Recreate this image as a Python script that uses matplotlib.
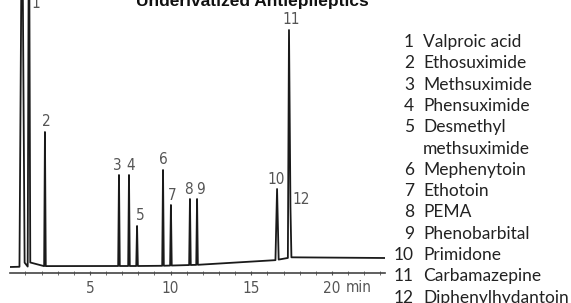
import numpy as np
import matplotlib.pyplot as plt

# 色谱数据：保留时间(min)与峰高(任意单位，基线为0)
peak_times = [0.79, 1.22, 2.21, 6.80, 7.42, 7.92, 9.53, 10.02, 11.20, 11.64, 16.60, 17.34]
peak_heights = [400, 400, 141, 98, 98, 47, 103, 68, 74, 74, 84, 243]
peak_labels = ['', '1', '2', '3', '4', '5', '6', '7', '8', '9', '10', '11']
# 12号峰是11号峰右侧的肩峰
shoulder_time = 17.43
shoulder_height = 66

# 基线漂移
base_times = [0.04, 2.5, 9.0, 13.5, 16.2, 17.6, 20.0, 23.3]
base_levels = [6, 7, 7, 9, 12, 16, 15, 15]

compounds = ['Valproic acid', 'Ethosuximide', 'Methsuximide', 'Phensuximide',
             'Desmethyl\nmethsuximide', 'Mephenytoin', 'Ethotoin', 'PEMA',
             'Phenobarbital', 'Primidone', 'Carbamazepine', 'Diphenylhydantoin']

tick_vals = [5, 10, 15, 20]


def baseline(t):
    return np.interp(t, base_times, base_levels)


# 拼出色谱曲线：每个峰 = 左基线点、峰顶、右基线点
pts = [(base_times[0], base_levels[0])]
widths = [0.16, 0.08, 0.05, 0.05, 0.05, 0.05, 0.05, 0.05, 0.05, 0.05, 0.1, 0.07]
for t, h, w in zip(peak_times, peak_heights, widths):
    pts.append((t - w, baseline(t - w)))
    pts.append((t, h))
    if t == peak_times[-1]:
        pts.append((shoulder_time, shoulder_height))
        pts.append((shoulder_time + 0.06, baseline(shoulder_time + 0.06)))
    else:
        pts.append((t + w, baseline(t + w) + (4 if t < 2 else 0)))
pts.append((base_times[-1], base_levels[-1]))
pts = sorted(pts)
xs = [p[0] for p in pts]
ys = [p[1] for p in pts]

fig = plt.figure(figsize=(5.71, 3.03), dpi=100)
ax = fig.add_axes([10 / 571, 30 / 303, 375 / 571, 273 / 303])
ax.plot(xs, ys, color='#1a1a1a', lw=1.3)
ax.set_xlim((10 - 9.3) / 16.13, (385 - 9.3) / 16.13)
ax.set_ylim(0, 273)

for s in ['top', 'right', 'left']:
    ax.spines[s].set_visible(False)
ax.spines['bottom'].set_color('#444444')
ax.spines['bottom'].set_linewidth(1.2)
ax.set_yticks([])
ax.set_xticks(tick_vals)
ax.set_xticks(np.arange(1, 24), minor=True)
ax.tick_params(axis='x', which='both', direction='inout', length=3, color='#555555',
               labelsize=11, labelcolor='#555555', pad=4)
lab_font = 'DejaVu Sans'
for lab in ax.get_xticklabels():
    lab.set_family(lab_font)
    lab.set_stretch('condensed')
ax.text(21.65, -14, 'min', ha='center', va='center', fontsize=11, color='#555555',
        family=lab_font, stretch='condensed')

# 峰标号（像素偏移）
offsets = [(0, 0), (7, 0), (1, 0), (-2, 0), (2, 0), (3, 0), (0, 0), (1, 0), (-2, 0), (3, 0), (-1, 0), (2, 0)]
for t, h, lab, (dx, dy) in zip(peak_times, peak_heights, peak_labels, offsets):
    if not lab:
        continue
    y = min(h, 273 - 16)
    if lab == '1':
        y = 273 - 13
    ax.annotate(lab, xy=(t, y), xytext=(dx, 10 + dy), textcoords='offset pixels',
                ha='center', va='center', fontsize=11, color='#555555', family=lab_font,
                stretch='condensed', annotation_clip=False)
ax.annotate('12', xy=(shoulder_time, shoulder_height), xytext=(11, 8),
            textcoords='offset pixels', ha='center', va='center', fontsize=11,
            color='#555555', family=lab_font, stretch='condensed')

fig.text(252 / 571, 1 - 6 / 303, 'Underivatized Antiepileptics', ha='center', va='baseline',
         fontsize=12.5, fontweight='bold', family='Liberation Sans', color='#111111')

# 右侧化合物列表
row = 0
for i, name in enumerate(compounds):
    y = 1 - (42 + 21.3 * row) / 303
    fig.text(414 / 571, y, str(i + 1), ha='right', va='center', fontsize=12.5,
             family='Lato', color='#222222')
    fig.text(423 / 571, y, name.split('\n')[0], ha='left', va='center', fontsize=12.5,
             family='Lato', color='#222222')
    if '\n' in name:
        row += 1
        fig.text(423 / 571, 1 - (42 + 21.3 * row) / 303, name.split('\n')[1], ha='left',
                 va='center', fontsize=12.5, family='Lato', color='#222222')
    row += 1

fig.savefig('out.png', dpi=100)
